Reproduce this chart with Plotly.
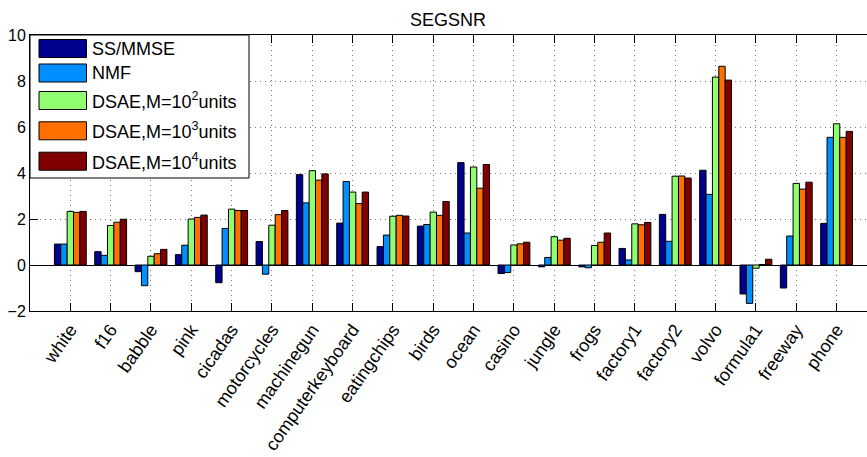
import plotly.graph_objects as go

# Noise types and SEGSNR improvement per method
categories = ["white", "f16", "babble", "pink", "cicadas", "motorcycles", "machinegun",
              "computerkeyboard", "eatingchips", "birds", "ocean", "casino", "jungle",
              "frogs", "factory1", "factory2", "volvo", "formula1", "freeway", "phone"]

ss_mmse = [0.91, 0.58, -0.29, 0.45, -0.77, 1.02, 3.93, 1.82, 0.80, 1.69,
           4.45, -0.37, -0.08, -0.08, 0.72, 2.20, 4.12, -1.26, -1.00, 1.81]
nmf = [0.91, 0.42, -0.90, 0.86, 1.59, -0.40, 2.70, 3.63, 1.30, 1.76,
       1.39, -0.33, 0.33, -0.12, 0.22, 1.03, 3.07, -1.67, 1.26, 5.55]
dsae_1e2 = [2.33, 1.72, 0.38, 2.00, 2.43, 1.73, 4.10, 3.17, 2.12, 2.30,
            4.26, 0.87, 1.23, 0.85, 1.79, 3.86, 8.17, -0.14, 3.55, 6.14]
dsae_1e3 = [2.29, 1.86, 0.49, 2.07, 2.37, 2.19, 3.69, 2.67, 2.16, 2.16,
            3.34, 0.92, 1.08, 0.99, 1.75, 3.87, 8.64, 0.02, 3.30, 5.55]
dsae_1e4 = [2.33, 1.99, 0.68, 2.17, 2.37, 2.37, 3.96, 3.17, 2.13, 2.76,
            4.37, 0.99, 1.16, 1.39, 1.85, 3.78, 8.04, 0.25, 3.60, 5.81]

series_names = ["SS/MMSE", "NMF", "DSAE,M=10<sup>2</sup>units",
                "DSAE,M=10<sup>3</sup>units", "DSAE,M=10<sup>4</sup>units"]
series_values = [ss_mmse, nmf, dsae_1e2, dsae_1e3, dsae_1e4]
colors = ["#00008F", "#008FFF", "#8FFF70", "#FF7000", "#800000"]

y_ticks = [-2, 0, 2, 4, 6, 8, 10]

W, H = 867, 457
ML, MR, MT, MB = 30, 0, 35, 146
FONT = "Liberation Sans, Arial, Helvetica, sans-serif"

fig = go.Figure()
x_idx = list(range(len(categories)))
for name, vals, col in zip(series_names, series_values, colors):
    fig.add_trace(go.Bar(
        x=x_idx, y=vals, name=name,
        marker=dict(color=col, line=dict(color="black", width=1)),
        showlegend=False,
    ))

# pixel -> paper helpers for the boxed legend
pw = W - ML - MR
ph = H - MT - MB
def px(x):
    return (x - ML) / pw
def py(y):
    return (H - MB - y) / ph

shapes = [dict(type="rect", xref="paper", yref="paper",
               x0=px(30), x1=px(249), y0=py(178), y1=py(35),
               line=dict(color="black", width=1), fillcolor="white", layer="above")]
annotations = []
row_centers = [48.5, 73, 100.5, 130.8, 161.2]
for name, col, yc in zip(series_names, colors, row_centers):
    shapes.append(dict(type="rect", xref="paper", yref="paper",
                       x0=px(39), x1=px(86.5), y0=py(yc + 9), y1=py(yc - 9),
                       line=dict(color="black", width=1), fillcolor=col, layer="above"))
    annotations.append(dict(text=name, xref="paper", yref="paper",
                            x=px(90), y=py(yc), xanchor="left", yanchor="middle",
                            showarrow=False, font=dict(family=FONT, size=18, color="black")))

fig.update_layout(
    width=W, height=H,
    margin=dict(l=ML, r=MR, t=MT, b=MB, pad=0),
    paper_bgcolor="white", plot_bgcolor="white",
    barmode="group", bargap=0.21, bargroupgap=0,
    title=dict(text="SEGSNR", x=px(448), xref="paper", xanchor="center",
               y=1 - 19.5 / H, yanchor="middle",
               font=dict(family=FONT, size=18, color="black")),
    font=dict(family=FONT, size=16, color="black"),
    shapes=shapes, annotations=annotations,
)

grid_style = dict(showgrid=True, gridcolor="#777", griddash="1px,4px", gridwidth=1)

fig.update_xaxes(
    range=[-1, -1 + pw / 40.33], automargin=False,
    tickmode="array", tickvals=x_idx, ticktext=categories,
    tickangle=-55, tickfont=dict(family=FONT, size=18, color="black"),
    ticks="inside", ticklen=8, tickcolor="black", tickwidth=1,
    showline=True, linecolor="black", linewidth=1, mirror="ticks",
    zeroline=False, **grid_style,
)
fig.update_yaxes(
    range=[-2, 10], tickvals=y_ticks, automargin=False,
    tickfont=dict(family=FONT, size=16, color="black"),
    ticks="inside", ticklen=8, tickcolor="black", tickwidth=1,
    showline=True, linecolor="black", linewidth=1, mirror=False,
    zeroline=True, zerolinecolor="black", zerolinewidth=1, **grid_style,
)

fig.write_html("out.html")
